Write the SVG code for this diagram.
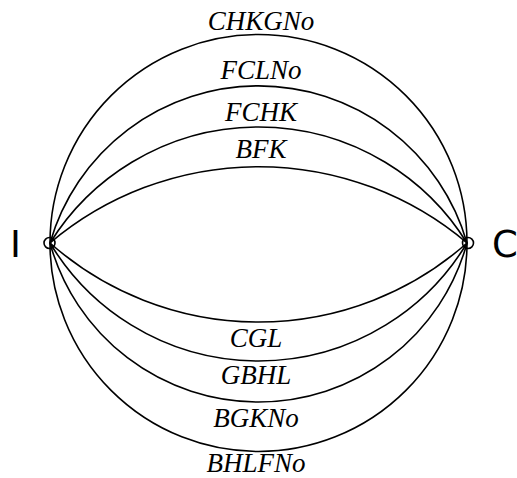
<svg xmlns="http://www.w3.org/2000/svg" width="517" height="478" viewBox="0 0 517 478">
<style>
.edge{fill:none;stroke:#000;stroke-width:1.6}
.node{fill:none;stroke:#000;stroke-width:1.6}
.lbl{font-family:"Liberation Serif","Times New Roman",serif;font-style:italic;font-size:27px;fill:#000;text-anchor:middle}
.nl{font-family:"DejaVu Sans",sans-serif;font-size:37px;fill:#000}
</style>
<rect width="517" height="478" fill="#fff"/>
<g id="connectors">
<path class="edge" d="M50,243 A208.5,208.5 0 0 1 467,243"/>
<path class="edge" d="M50,243 A216.9,216.9 0 0 1 467,243"/>
<path class="edge" d="M50,243 A245.3,245.3 0 0 1 467,243"/>
<path class="edge" d="M50,243 A323,323 0 0 1 467,243"/>
<path class="edge" d="M50,243 A314.6,314.6 0 0 0 467,243"/>
<path class="edge" d="M50,243 A243.2,243.2 0 0 0 467,243"/>
<path class="edge" d="M50,243 A216.2,216.2 0 0 0 467,243"/>
<path class="edge" d="M50,243 A208.5,208.5 0 0 0 467,243"/>
</g>
<g id="edge-labels">
<text class="lbl" x="261" y="30">CHKGNo</text>
<text class="lbl" x="261" y="79">FCLNo</text>
<text class="lbl" x="261" y="121">FCHK</text>
<text class="lbl" x="261" y="158">BFK</text>
<text class="lbl" x="256" y="347">CGL</text>
<text class="lbl" x="256" y="384">GBHL</text>
<text class="lbl" x="256" y="427">BGKNo</text>
<text class="lbl" x="256" y="472">BHLFNo</text>
</g>
<g id="node-I">
<circle class="node" cx="49.5" cy="243" r="5.5"/>
<text class="nl" x="10" y="257">I</text>
</g>
<g id="node-C">
<circle class="node" cx="468" cy="243" r="5.5"/>
<text class="nl" x="492" y="257">C</text>
</g>
</svg>
